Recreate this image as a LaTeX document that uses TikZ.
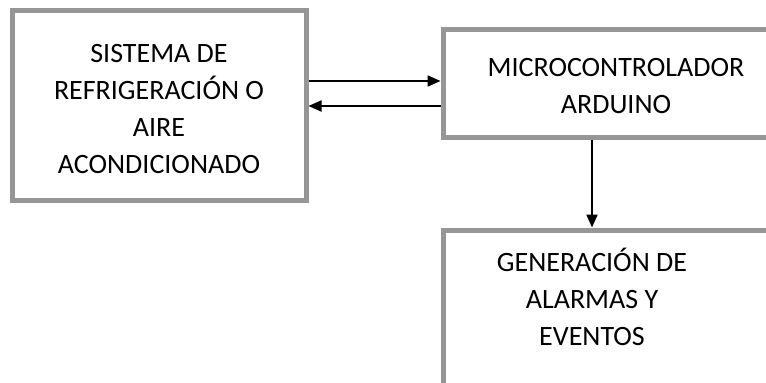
\documentclass[tikz,border=0pt]{standalone}
\usepackage{fontspec}
\setmainfont{Carlito}
\usetikzlibrary{arrows.meta,positioning}
\definecolor{bordegris}{RGB}{150,150,150}

\begin{document}
\begin{tikzpicture}[x=1pt,y=-1pt,
    bloque/.style={rectangle, draw=bordegris, line width=5pt},
    texto/.style={align=center, font=\fontsize{28}{36.7}\selectfont},
    flecha/.style={-{Triangle[length=13pt,width=11pt]}, line width=2pt}]
  \useasboundingbox (0,0) rectangle (766,383);
  \clip (0,0) rectangle (766,383);
  % Draw blocks
  \node[bloque, minimum width=294pt, minimum height=190pt] (sistema) at (159,105) {};
  \node[bloque, minimum width=346pt, minimum height=108pt] (micro) at (616,83) {};
  \node[bloque, minimum width=346pt, minimum height=220pt] (alarmas) at (616,340) {};
  % Texts inside blocks
  \node[texto] (sistematexto) at (159,109) {SISTEMA DE\\REFRIGERACIÓN O\\AIRE\\ACONDICIONADO};
  \node[texto] (microtexto) at (616,86) {MICROCONTROLADOR\\ARDUINO};
  \node[texto] (gentexto) at (592,297) {GENERACIÓN DE\\ALARMAS Y\\EVENTOS};
  % Draw connections
  \coordinate (ida) at ([yshift=2pt]micro.west);
  \coordinate (vuelta) at ([yshift=-23pt]micro.west);
  \draw[flecha] (ida -| sistema.east) -- (ida);
  \draw[flecha] (vuelta) -- (vuelta -| sistema.east);
  \draw[flecha] (micro.south -| gentexto) -- (alarmas.north -| gentexto);
\end{tikzpicture}
\end{document}
